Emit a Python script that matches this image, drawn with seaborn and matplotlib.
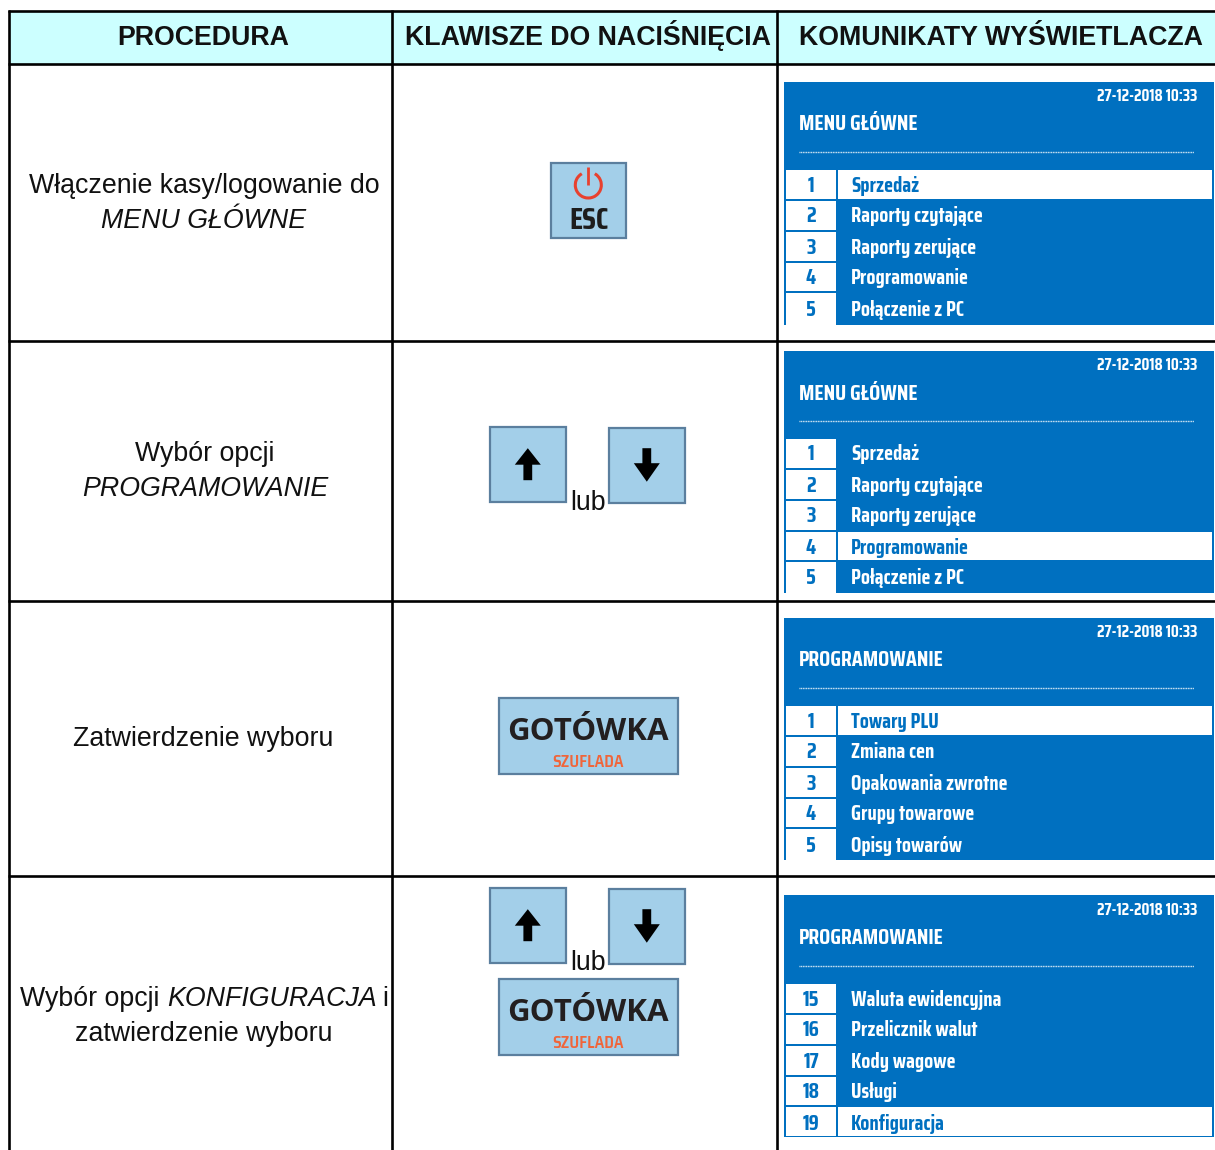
import matplotlib
matplotlib.use("Agg")
import matplotlib.pyplot as plt
from matplotlib.patches import Rectangle, Polygon, Arc
from matplotlib import font_manager as fm
import seaborn as sns
import logging

logging.getLogger("matplotlib.font_manager").setLevel(logging.ERROR)
sns.set_theme(style="white")
plt.rcParams['font.family'] = ['Liberation Sans', 'DejaVu Sans']


def family_of(prefix, fallback):
    for f in fm.fontManager.ttflist:
        if f.fname.split('/')[-1].startswith(prefix):
            return [f.name] + fallback
    return fallback


BASE = ['Liberation Sans', 'DejaVu Sans']
NARROW = family_of('SairaCondensed-', BASE)
SEMI = family_of('SairaSemiCondensed-', BASE)
WIDE = ['Open Sans'] + BASE

headers = ["PROCEDURA", "KLAWISZE DO NACIŚNIĘCIA", "KOMUNIKATY WYŚWIETLACZA"]
date_text = "27-12-2018 10:33"
titles = ["MENU GŁÓWNE", "MENU GŁÓWNE", "PROGRAMOWANIE", "PROGRAMOWANIE"]
numbers = [["1", "2", "3", "4", "5"], ["1", "2", "3", "4", "5"],
           ["1", "2", "3", "4", "5"], ["15", "16", "17", "18", "19"]]
items = [["Sprzedaż", "Raporty czytające", "Raporty zerujące", "Programowanie", "Połączenie z PC"],
         ["Sprzedaż", "Raporty czytające", "Raporty zerujące", "Programowanie", "Połączenie z PC"],
         ["Towary PLU", "Zmiana cen", "Opakowania zwrotne", "Grupy towarowe", "Opisy towarów"],
         ["Waluta ewidencyjna", "Przelicznik walut", "Kody wagowe", "Usługi", "Konfiguracja"]]
selected = [0, 3, 0, 4]

BLUE = "#0070C0"
KEY = "#A3CFE9"
KEY_EDGE = "#5B7F9E"
HEAD = "#CCFFFF"
INK = "#111111"

fig = plt.figure(figsize=(12.15, 11.5), dpi=100)
ax = fig.add_axes([0, 0, 1, 1])
ax.set_xlim(0, 1215)
ax.set_ylim(1150, 0)
ax.axis("off")
sns.despine(ax=ax, left=True, bottom=True)

# table frame
ax.add_patch(Rectangle((9, 12), 1206, 52, fc=HEAD, ec="none", zorder=0))
for y in (11.3, 64, 341, 601, 876):
    ax.plot([7.5, 1215], [y, y], color="black", lw=1.9, solid_capstyle="butt", zorder=3)
for x in (8.7, 392.2, 777):
    ax.plot([x, x], [10, 1150], color="black", lw=1.9, solid_capstyle="butt", zorder=3)

TXT = 19.25
for cx, h in zip((203.5, 588, 1001), headers):
    ax.text(cx, 45, h, ha="center", va="baseline", fontsize=19.25, fontweight="bold", color=INK)


def two_lines(y1, y2, a, b, cx=204):
    ax.text(cx, y1, a, ha="center", va="baseline", fontsize=TXT, color=INK)
    ax.text(cx, y2, b, ha="center", va="baseline", fontsize=TXT, color=INK, style="italic")


two_lines(193, 228, "Włączenie kasy/logowanie do", "MENU GŁÓWNE")
two_lines(461, 496, "Wybór opcji", "PROGRAMOWANIE", cx=205)
ax.text(203, 746, "Zatwierdzenie wyboru", ha="center", va="baseline", fontsize=TXT, color=INK)
ax.text(20, 1006, "Wybór opcji ", ha="left", va="baseline", fontsize=TXT, color=INK)
ax.text(167, 1006, "KONFIGURACJA", ha="left", va="baseline", fontsize=TXT, color=INK, style="italic")
ax.text(382, 1006, "i", ha="left", va="baseline", fontsize=TXT, color=INK)
ax.text(203.5, 1041, "zatwierdzenie wyboru", ha="center", va="baseline", fontsize=TXT, color=INK)


def key(x0, y0, x1, y1):
    ax.add_patch(Rectangle((x0, y0), x1 - x0, y1 - y0, fc=KEY, ec=KEY_EDGE, lw=1.6, zorder=2))


def arrow(cx, ytail, yhead, ybase):
    pts = [(cx - 4.4, ytail), (cx + 4.4, ytail), (cx + 4.4, ybase), (cx + 13, ybase),
           (cx, yhead), (cx - 13, ybase), (cx - 4.4, ybase)]
    ax.add_patch(Polygon(pts, closed=True, fc="black", ec="none", zorder=4))


def arrows(y_up, y_lub):
    key(490, y_up, 565.5, y_up + 75.5)
    arrow(527.8, y_up + 53.5, y_up + 21.5, y_up + 38)
    key(609, y_up + 1, 685.3, y_up + 76)
    arrow(646.8, y_up + 21.5, y_up + 55, y_up + 36.5)
    ax.text(588, y_lub, "lub", ha="center", va="baseline", fontsize=TXT, color=INK)


def cash(y0):
    key(498.5, y0, 678.3, y0 + 76)
    ax.text(588, y0 + 42, "GOTÓWKA", ha="center", va="baseline", fontsize=22.5,
            fontweight="bold", color="#231F20", family=WIDE, zorder=4)
    ax.text(588, y0 + 68.5, "SZUFLADA", ha="center", va="baseline", fontsize=11.7,
            fontweight="semibold", color="#F0653A", family=SEMI, zorder=4)


# ESC key
key(550.7, 162.8, 626.3, 238)
ax.add_patch(Arc((588.3, 185), 26, 26, theta1=-60, theta2=240, ec="#E8412F", lw=2.2, zorder=4))
ax.plot([588.3, 588.3], [167, 185], color="#E8412F", lw=2.0, solid_capstyle="butt", zorder=4)
ax.text(589, 229, "ESC", ha="center", va="baseline", fontsize=22.5, fontweight="bold",
        color="#1D1D1D", family=NARROW, zorder=4)

arrows(426.7, 509.5)
cash(698.2)
arrows(887.7, 970.5)
cash(979.2)

# screens
row_edges = [(170, 199), (201, 230), (232, 261), (263, 291), (293, 324)]
row_base = [191.5, 222.5, 253.5, 284.5, 315.5]
offsets = [0, 269, 536, 814]
bottoms = [325, 593, 860, 1137]
for i, off in enumerate(offsets):
    top = 82 + off - (1 if i == 3 else 0)
    ax.add_patch(Rectangle((784, top), 430, bottoms[i] - top, fc=BLUE, ec="none", zorder=1))
    ax.text(1197, 100.7 + off, date_text, ha="right", va="baseline", fontsize=12, fontweight="bold",
            color="white", family=NARROW, zorder=4)
    ax.text(799, 130.5 + off, titles[i], ha="left", va="baseline", fontsize=15.8, fontweight="bold",
            color="white", family=NARROW, zorder=4)
    ax.plot([799, 1194], [152 + off, 152 + off], color="white", lw=1.0, ls=(0, (0.7, 0.5)), alpha=0.9, zorder=2)
    for j in range(5):
        y0, y1 = row_edges[j]
        y0 += off
        y1 += off
        if j == 4:
            y1 = bottoms[i] - (1 if selected[i] == 4 else 0)
        ax.add_patch(Rectangle((786, y0), 50, y1 - y0, fc="white", ec="none", zorder=2))
        sel = selected[i] == j
        if sel:
            ax.add_patch(Rectangle((838, y0), 374, y1 - y0, fc="white", ec="none", zorder=2))
        ax.text(811, row_base[j] + off, numbers[i][j], ha="center", va="baseline", fontsize=15.5,
                fontweight="bold", color=BLUE, family=NARROW, zorder=4)
        ax.text(851, row_base[j] + off, items[i][j], ha="left", va="baseline", fontsize=14.9,
                fontweight="bold", color=BLUE if sel else "white", family=NARROW, zorder=4)

fig.savefig("out.png", dpi=100, facecolor="white")
